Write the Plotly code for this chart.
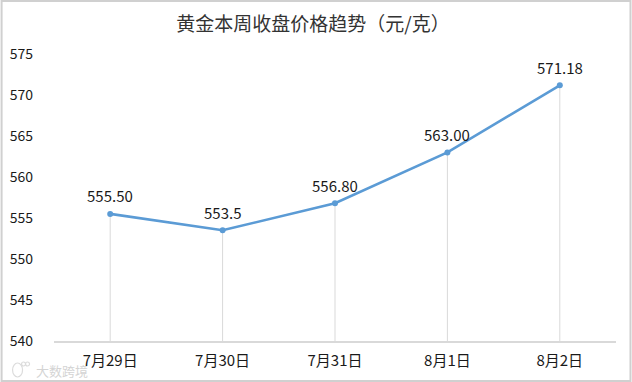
import plotly.graph_objects as go

categories = ["7月29日", "7月30日", "7月31日", "8月1日", "8月2日"]
values = [555.50, 553.5, 556.80, 563.00, 571.18]
value_labels = ["555.50", "553.5", "556.80", "563.00", "571.18"]
y_min = 540
y_max = 575
y_step = 5
title_text = "黄金本周收盘价格趋势（元/克）"
watermark_text = "大数跨境"

FONT = "Noto Sans CJK SC"
W, H = 632, 382
L, R, T, B = 53.5, 15.5, 54, 41
PW, PH = W - L - R, H - T - B


def px(x):
    return (x - L) / PW


def py(y):
    return 1 - (y - T) / PH


fig = go.Figure(go.Scatter(
    x=categories,
    y=values,
    mode="lines+markers",
    line=dict(color="#5b9bd5", width=2.6),
    marker=dict(color="#5b9bd5", size=6),
    cliponaxis=False,
    hoverinfo="skip",
    error_y=dict(
        type="data", symmetric=False,
        array=[0] * len(values),
        arrayminus=[v - y_min for v in values],
        color="#d9d9d9", thickness=1, width=0,
    ),
))

label_annotations = [
    dict(x=c, y=v, text=t, xref="x", yref="y", showarrow=False,
         yanchor="middle", yshift=18,
         font=dict(family=FONT, size=15, color="#1a1a1a"))
    for c, v, t in zip(categories, values, value_labels)
]


def ring(x0, y0, x1, y1):
    return dict(type="circle", xref="paper", yref="paper",
                x0=px(x0), x1=px(x1), y0=py(y1), y1=py(y0),
                line=dict(color="#dcdcdc", width=1.2))


fig.update_layout(
    width=W, height=H,
    margin=dict(l=L, r=R, t=T, b=B, pad=0),
    paper_bgcolor="white", plot_bgcolor="white",
    showlegend=False,
    title=dict(
        text=title_text,
        font=dict(family=FONT, size=19, color="#333333"),
        x=0.461, xanchor="center", xref="paper",
        y=1 - 24.5 / H, yanchor="middle",
    ),
    xaxis=dict(
        type="category", range=[-0.5, 4.5], automargin=False,
        showgrid=False, zeroline=False,
        showline=True, linecolor="#d9d9d9", linewidth=1.5,
        ticks="", ticklabelstandoff=5,
        tickfont=dict(family=FONT, size=15, color="#1a1a1a"),
    ),
    yaxis=dict(
        range=[y_min, y_max], dtick=y_step, tick0=y_min, automargin=False,
        showgrid=False, zeroline=False, showline=False,
        ticks="", ticklabelstandoff=20,
        tickfont=dict(family=FONT, size=14, color="#1a1a1a"),
    ),
    annotations=label_annotations + [dict(
        text=watermark_text, xref="paper", yref="paper",
        x=px(33), y=py(370), xanchor="left", yanchor="middle", showarrow=False,
        font=dict(family=FONT, size=13, color="#d4d4d4"),
    )],
    shapes=[
        dict(
            type="rect", xref="paper", yref="paper",
            x0=px(1), x1=px(W - 1), y0=py(H - 1), y1=py(1),
            line=dict(color="#d0d0d0", width=2), layer="below",
        ),
        ring(12, 363, 22, 377),
        ring(21, 362, 25, 366),
        ring(25, 362, 29, 366),
    ],
)

fig.write_html(
    "out.html",
    post_script="document.body.style.margin='0';",
    config={"displayModeBar": False},
)
